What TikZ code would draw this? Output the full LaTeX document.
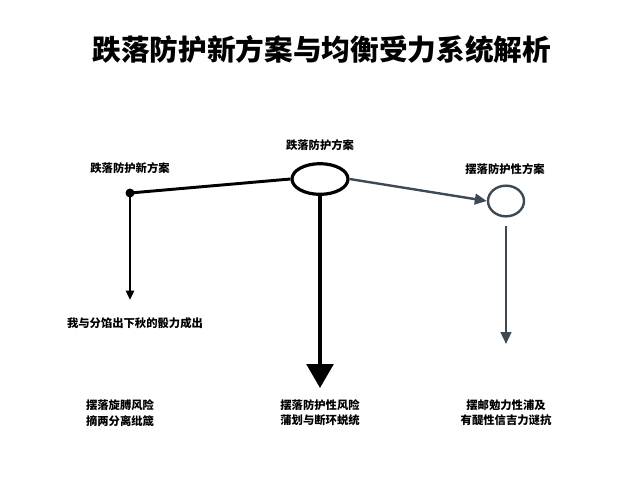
\documentclass[tikz,border=0pt]{standalone}
\usepackage{fontspec}
\newfontfamily\cjk{Noto Sans CJK SC}
\usetikzlibrary{arrows.meta,shapes.geometric}
\definecolor{slate}{HTML}{3D4A55}
\begin{document}
\begin{tikzpicture}[x=0.75pt,y=-0.75pt,
  lbl/.style={font=\cjk\bfseries\fontsize{8.5}{11.5}\selectfont,align=center,inner sep=0},
  blk/.style={line width=2.2pt,black},
  gry/.style={line width=1.8pt,slate}]
\useasboundingbox (0,0) rectangle (640,480);
\node[font=\cjk\bfseries\fontsize{21.5}{24}\selectfont] (title) at (322,50) {跌落防护新方案与均衡受力系统解析};
\coordinate (dot) at (130,193);
\fill (dot) circle (4.5);
\node[draw,line width=2.4pt,shape=ellipse,minimum width=42pt,minimum height=23pt,inner sep=0] (e) at (320,179) {};
\node[draw,gry,shape=ellipse,minimum width=27pt,minimum height=23pt,inner sep=0] (c) at (506,201) {};
\draw[blk] (dot) -- (e.west);
\draw[gry,-{Triangle[length=9pt,width=8pt]}] (e.east) -- (c.west);
\coordinate (l1) at (130,300);
\draw[blk,-{Triangle[length=7pt,width=6pt]}] (dot) -- (l1);
\coordinate (m1) at (320,388);
\draw[line width=2.8pt,-{Triangle[length=18pt,width=20pt]}] (e.south) -- (m1);
\coordinate (r0) at (506,226);
\coordinate (r1) at (506,344);
\draw[gry,-{Triangle[length=9pt,width=8pt]}] (r0) -- (r1);
\node[lbl] (t1) at (130,168) {跌落防护新方案};
\node[lbl] (t2) at (320,145) {跌落防护方案};
\node[lbl] (t3) at (505,169) {摆落防护性方案};
\node[lbl] (t4) at (135,323) {我与分馅出下秋的骰力成出};
\node[lbl] (b1) at (120,413) {摆落旋膊风险\\摘两分离纰箴};
\node[lbl] (b2) at (320,413) {摆落防护性风险\\蒲划与断环蜕统};
\node[lbl] (b3) at (506,413) {摆邮勉力性浦及\\有醍性信吉力谜抗};
\end{tikzpicture}
\end{document}
